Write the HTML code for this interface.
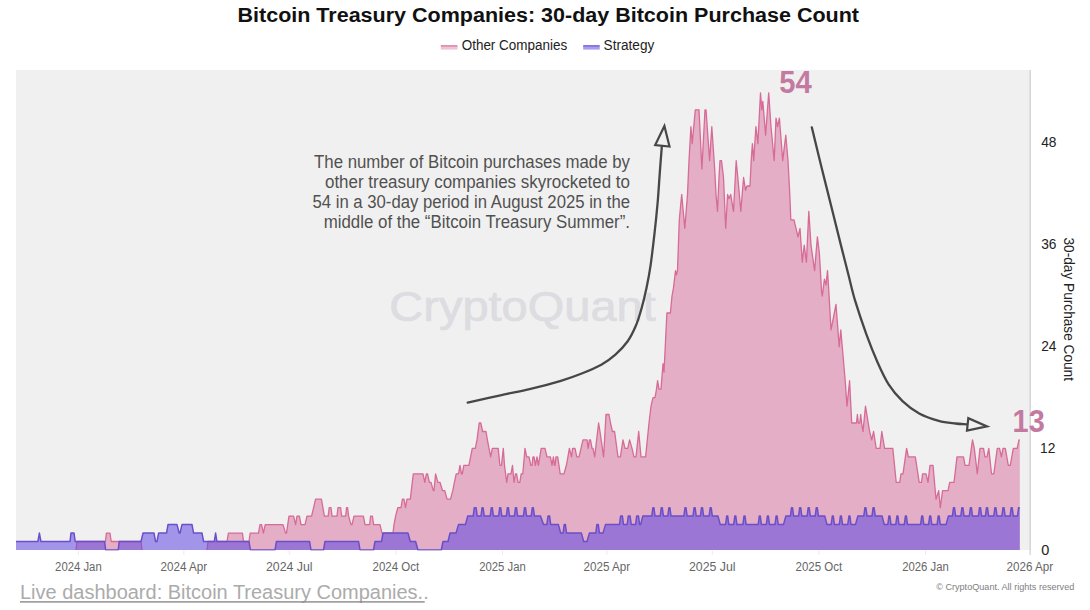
<!DOCTYPE html>
<html><head><meta charset="utf-8"><title>Bitcoin Treasury Companies: 30-day Bitcoin Purchase Count</title>
<style>
html,body{margin:0;padding:0;background:#fff;}
body{width:1090px;height:610px;overflow:hidden;font-family:"Liberation Sans",sans-serif;}
svg{display:block;}
svg text{font-family:"Liberation Sans",sans-serif;}
</style></head><body>
<svg width="1090" height="610" viewBox="0 0 1090 610" font-family="Liberation Sans, sans-serif">
<rect x="16" y="70" width="1013.6" height="480" fill="#f0f0f0"/>
<line x1="1030.2" y1="70" x2="1030.2" y2="555" stroke="#d6d6db" stroke-width="1.6"/>
<text x="389.3" y="320.6" font-size="43" fill="#dcdce1" textLength="266.5" lengthAdjust="spacingAndGlyphs" stroke="#dcdce1" stroke-width="0.7">CryptoQuant</text>
<clipPath id="pc"><rect x="16" y="60" width="1014" height="490.4"/></clipPath><g clip-path="url(#pc)">
<path d="M16.0 550.0 L76.0 550.0 L77.0 541.5 L105.4 541.5 L106.4 533.1 L110.0 533.1 L111.2 541.5 L141.0 541.5 L142.0 550.0 L207.0 550.0 L208.0 541.5 L227.0 541.5 L228.4 533.1 L242.4 533.1 L243.6 541.5 L249.0 541.5 L250.2 533.1 L258.5 533.1 L260.0 524.6 L261.6 524.6 L263.4 533.1 L265.2 524.6 L283.0 524.6 L285.6 533.1 L286.5 533.1 L289.0 516.1 L293.6 516.1 L295.6 524.6 L297.0 516.1 L299.4 516.1 L301.0 524.6 L305.0 524.6 L307.0 516.1 L311.6 516.1 L315.6 499.2 L321.4 499.2 L324.4 516.1 L328.2 516.1 L329.2 507.7 L331.0 507.7 L332.0 516.1 L337.0 516.1 L338.0 507.7 L340.6 507.7 L341.6 516.1 L345.6 516.1 L346.6 507.7 L347.6 507.7 L348.6 516.1 L351.0 524.6 L352.0 524.6 L354.0 516.1 L363.4 516.1 L365.0 524.6 L369.6 524.6 L370.6 516.1 L372.4 516.1 L373.6 524.6 L380.0 524.6 L382.0 533.1 L393.0 533.1 L394.0 524.6 L395.6 516.1 L397.8 507.7 L401.0 507.7 L402.4 499.2 L404.0 499.2 L405.5 507.7 L407.0 499.2 L410.3 499.2 L413.3 473.8 L423.0 473.8 L424.8 482.3 L426.4 473.8 L427.5 473.8 L429.4 482.3 L431.0 482.3 L433.3 490.7 L434.0 490.7 L435.6 473.8 L437.9 482.3 L440.0 482.3 L442.5 490.7 L444.8 490.7 L447.0 499.2 L450.5 499.2 L452.8 490.7 L454.4 482.3 L456.2 473.8 L458.5 473.8 L460.0 465.3 L461.5 473.8 L462.3 473.8 L463.8 465.3 L468.9 465.3 L472.3 448.4 L475.3 448.4 L477.0 439.9 L479.2 423.0 L480.8 423.0 L482.6 431.5 L486.0 431.5 L487.4 439.9 L489.0 448.4 L490.7 456.9 L492.3 448.4 L498.2 448.4 L499.9 465.3 L501.5 465.3 L503.3 448.4 L504.5 465.3 L506.7 482.3 L508.0 473.8 L511.0 473.8 L512.5 465.3 L514.0 482.3 L515.5 473.8 L516.6 473.8 L518.0 482.3 L519.8 482.3 L521.2 473.8 L522.8 473.8 L525.0 448.4 L526.7 456.9 L529.0 456.9 L530.8 465.3 L532.0 465.3 L533.0 456.9 L534.0 456.9 L535.4 465.3 L537.0 456.9 L538.4 465.3 L541.2 448.4 L545.0 448.4 L547.0 456.9 L550.4 456.9 L552.0 465.3 L553.4 456.9 L554.5 465.3 L555.0 465.3 L556.0 456.9 L557.7 456.9 L560.2 473.8 L564.0 473.8 L566.4 465.3 L569.4 448.4 L571.5 456.9 L572.6 448.4 L575.0 448.4 L576.8 456.9 L579.0 456.9 L581.0 448.4 L583.0 439.9 L587.0 439.9 L588.2 448.4 L589.4 439.9 L590.5 439.9 L592.0 448.4 L593.0 448.4 L594.7 456.9 L598.6 423.0 L600.0 431.5 L603.6 456.9 L606.0 414.5 L609.0 414.5 L610.5 423.0 L612.4 431.5 L614.6 431.5 L618.0 456.9 L620.4 456.9 L623.0 439.9 L625.0 448.4 L627.7 448.4 L629.6 439.9 L632.0 448.4 L634.0 456.9 L636.0 456.9 L638.7 431.5 L641.0 456.9 L645.6 456.9 L649.0 423.0 L650.0 414.5 L651.0 406.1 L653.0 397.6 L655.0 397.6 L656.5 389.1 L657.6 380.7 L659.0 389.1 L661.0 389.1 L663.0 363.7 L664.0 372.2 L666.9 313.0 L670.4 313.0 L672.0 296.0 L673.5 287.6 L675.5 270.6 L676.5 274.9 L677.5 270.6 L679.3 219.8 L681.7 194.4 L684.8 228.3 L687.5 194.4 L689.0 160.6 L690.9 126.7 L692.2 143.6 L695.3 109.8 L699.0 109.8 L701.9 169.0 L705.0 109.8 L706.0 109.8 L709.6 160.6 L711.8 126.7 L714.7 169.0 L716.0 194.4 L717.5 211.4 L719.0 177.5 L720.0 160.6 L721.5 160.6 L723.5 177.5 L725.7 228.3 L727.6 194.4 L729.0 198.7 L730.7 194.4 L733.5 211.4 L735.3 177.5 L736.2 160.6 L738.6 186.0 L740.8 211.4 L743.6 177.5 L745.5 190.2 L747.0 186.0 L750.0 186.0 L751.2 160.6 L752.4 143.6 L753.7 160.6 L755.9 126.7 L757.9 143.6 L760.5 92.8 L761.8 109.8 L762.8 101.3 L765.6 135.2 L768.7 92.8 L771.0 126.7 L774.2 160.6 L776.0 118.2 L777.6 126.7 L779.4 118.2 L782.7 160.6 L785.8 135.2 L788.0 160.6 L789.8 194.4 L790.8 219.8 L794.0 219.8 L796.0 228.3 L798.0 236.8 L800.0 228.3 L802.3 262.2 L804.2 245.2 L806.4 262.2 L808.8 211.4 L811.0 245.2 L814.6 270.6 L817.4 236.8 L819.4 253.7 L821.6 291.8 L822.3 296.0 L824.4 279.1 L826.0 285.0 L827.5 270.6 L828.6 287.6 L831.0 329.9 L836.0 304.5 L839.2 346.8 L840.8 329.9 L845.2 380.7 L847.0 406.1 L849.6 380.7 L851.7 423.0 L856.5 423.0 L857.4 414.5 L858.3 423.0 L859.8 423.0 L860.7 414.5 L861.6 423.0 L863.0 431.5 L865.5 406.1 L869.6 431.5 L871.7 439.9 L873.6 431.5 L876.2 448.4 L880.0 448.4 L881.8 431.5 L884.6 448.4 L892.8 448.4 L896.2 482.3 L899.7 482.3 L901.0 473.8 L903.0 473.8 L906.6 448.4 L908.4 456.9 L915.3 456.9 L919.2 482.3 L921.5 482.3 L922.6 473.8 L926.0 473.8 L928.0 482.3 L930.0 465.3 L933.0 465.3 L936.0 499.2 L938.7 490.7 L940.3 507.7 L942.6 490.7 L948.0 490.7 L949.7 482.3 L954.0 482.3 L957.0 456.9 L963.5 456.9 L965.0 465.3 L969.0 465.3 L972.5 439.9 L974.3 448.4 L977.3 473.8 L980.0 448.4 L983.5 448.4 L985.0 456.9 L987.0 456.9 L988.8 448.4 L991.5 473.8 L993.8 473.8 L997.3 448.4 L999.5 448.4 L1001.4 456.9 L1003.0 448.4 L1005.3 448.4 L1008.3 465.3 L1010.3 465.3 L1013.3 448.4 L1017.2 448.4 L1019.0 439.9 L1019.8 439.9 L1019.8 550.0 L16.0 550.0 Z" fill="#e3aec6"/>
<path d="M76.0 550.0 L77.0 541.5 L105.4 541.5 L106.4 533.1 L110.0 533.1 L111.2 541.5 L141.0 541.5 L142.0 550.0 M207.0 550.0 L208.0 541.5 L227.0 541.5 L228.4 533.1 L242.4 533.1 L243.6 541.5 L249.0 541.5 L250.2 533.1 L258.5 533.1 L260.0 524.6 L261.6 524.6 L263.4 533.1 L265.2 524.6 L283.0 524.6 L285.6 533.1 L286.5 533.1 L289.0 516.1 L293.6 516.1 L295.6 524.6 L297.0 516.1 L299.4 516.1 L301.0 524.6 L305.0 524.6 L307.0 516.1 L311.6 516.1 L315.6 499.2 L321.4 499.2 L324.4 516.1 L328.2 516.1 L329.2 507.7 L331.0 507.7 L332.0 516.1 L337.0 516.1 L338.0 507.7 L340.6 507.7 L341.6 516.1 L345.6 516.1 L346.6 507.7 L347.6 507.7 L348.6 516.1 L351.0 524.6 L352.0 524.6 L354.0 516.1 L363.4 516.1 L365.0 524.6 L369.6 524.6 L370.6 516.1 L372.4 516.1 L373.6 524.6 L380.0 524.6 L382.0 533.1 L393.0 533.1 L394.0 524.6 L395.6 516.1 L397.8 507.7 L401.0 507.7 L402.4 499.2 L404.0 499.2 L405.5 507.7 L407.0 499.2 L410.3 499.2 L413.3 473.8 L423.0 473.8 L424.8 482.3 L426.4 473.8 L427.5 473.8 L429.4 482.3 L431.0 482.3 L433.3 490.7 L434.0 490.7 L435.6 473.8 L437.9 482.3 L440.0 482.3 L442.5 490.7 L444.8 490.7 L447.0 499.2 L450.5 499.2 L452.8 490.7 L454.4 482.3 L456.2 473.8 L458.5 473.8 L460.0 465.3 L461.5 473.8 L462.3 473.8 L463.8 465.3 L468.9 465.3 L472.3 448.4 L475.3 448.4 L477.0 439.9 L479.2 423.0 L480.8 423.0 L482.6 431.5 L486.0 431.5 L487.4 439.9 L489.0 448.4 L490.7 456.9 L492.3 448.4 L498.2 448.4 L499.9 465.3 L501.5 465.3 L503.3 448.4 L504.5 465.3 L506.7 482.3 L508.0 473.8 L511.0 473.8 L512.5 465.3 L514.0 482.3 L515.5 473.8 L516.6 473.8 L518.0 482.3 L519.8 482.3 L521.2 473.8 L522.8 473.8 L525.0 448.4 L526.7 456.9 L529.0 456.9 L530.8 465.3 L532.0 465.3 L533.0 456.9 L534.0 456.9 L535.4 465.3 L537.0 456.9 L538.4 465.3 L541.2 448.4 L545.0 448.4 L547.0 456.9 L550.4 456.9 L552.0 465.3 L553.4 456.9 L554.5 465.3 L555.0 465.3 L556.0 456.9 L557.7 456.9 L560.2 473.8 L564.0 473.8 L566.4 465.3 L569.4 448.4 L571.5 456.9 L572.6 448.4 L575.0 448.4 L576.8 456.9 L579.0 456.9 L581.0 448.4 L583.0 439.9 L587.0 439.9 L588.2 448.4 L589.4 439.9 L590.5 439.9 L592.0 448.4 L593.0 448.4 L594.7 456.9 L598.6 423.0 L600.0 431.5 L603.6 456.9 L606.0 414.5 L609.0 414.5 L610.5 423.0 L612.4 431.5 L614.6 431.5 L618.0 456.9 L620.4 456.9 L623.0 439.9 L625.0 448.4 L627.7 448.4 L629.6 439.9 L632.0 448.4 L634.0 456.9 L636.0 456.9 L638.7 431.5 L641.0 456.9 L645.6 456.9 L649.0 423.0 L650.0 414.5 L651.0 406.1 L653.0 397.6 L655.0 397.6 L656.5 389.1 L657.6 380.7 L659.0 389.1 L661.0 389.1 L663.0 363.7 L664.0 372.2 L666.9 313.0 L670.4 313.0 L672.0 296.0 L673.5 287.6 L675.5 270.6 L676.5 274.9 L677.5 270.6 L679.3 219.8 L681.7 194.4 L684.8 228.3 L687.5 194.4 L689.0 160.6 L690.9 126.7 L692.2 143.6 L695.3 109.8 L699.0 109.8 L701.9 169.0 L705.0 109.8 L706.0 109.8 L709.6 160.6 L711.8 126.7 L714.7 169.0 L716.0 194.4 L717.5 211.4 L719.0 177.5 L720.0 160.6 L721.5 160.6 L723.5 177.5 L725.7 228.3 L727.6 194.4 L729.0 198.7 L730.7 194.4 L733.5 211.4 L735.3 177.5 L736.2 160.6 L738.6 186.0 L740.8 211.4 L743.6 177.5 L745.5 190.2 L747.0 186.0 L750.0 186.0 L751.2 160.6 L752.4 143.6 L753.7 160.6 L755.9 126.7 L757.9 143.6 L760.5 92.8 L761.8 109.8 L762.8 101.3 L765.6 135.2 L768.7 92.8 L771.0 126.7 L774.2 160.6 L776.0 118.2 L777.6 126.7 L779.4 118.2 L782.7 160.6 L785.8 135.2 L788.0 160.6 L789.8 194.4 L790.8 219.8 L794.0 219.8 L796.0 228.3 L798.0 236.8 L800.0 228.3 L802.3 262.2 L804.2 245.2 L806.4 262.2 L808.8 211.4 L811.0 245.2 L814.6 270.6 L817.4 236.8 L819.4 253.7 L821.6 291.8 L822.3 296.0 L824.4 279.1 L826.0 285.0 L827.5 270.6 L828.6 287.6 L831.0 329.9 L836.0 304.5 L839.2 346.8 L840.8 329.9 L845.2 380.7 L847.0 406.1 L849.6 380.7 L851.7 423.0 L856.5 423.0 L857.4 414.5 L858.3 423.0 L859.8 423.0 L860.7 414.5 L861.6 423.0 L863.0 431.5 L865.5 406.1 L869.6 431.5 L871.7 439.9 L873.6 431.5 L876.2 448.4 L880.0 448.4 L881.8 431.5 L884.6 448.4 L892.8 448.4 L896.2 482.3 L899.7 482.3 L901.0 473.8 L903.0 473.8 L906.6 448.4 L908.4 456.9 L915.3 456.9 L919.2 482.3 L921.5 482.3 L922.6 473.8 L926.0 473.8 L928.0 482.3 L930.0 465.3 L933.0 465.3 L936.0 499.2 L938.7 490.7 L940.3 507.7 L942.6 490.7 L948.0 490.7 L949.7 482.3 L954.0 482.3 L957.0 456.9 L963.5 456.9 L965.0 465.3 L969.0 465.3 L972.5 439.9 L974.3 448.4 L977.3 473.8 L980.0 448.4 L983.5 448.4 L985.0 456.9 L987.0 456.9 L988.8 448.4 L991.5 473.8 L993.8 473.8 L997.3 448.4 L999.5 448.4 L1001.4 456.9 L1003.0 448.4 L1005.3 448.4 L1008.3 465.3 L1010.3 465.3 L1013.3 448.4 L1017.2 448.4 L1019.0 439.9 L1019.8 439.9" fill="none" stroke="#d76b95" stroke-width="1.3" stroke-linejoin="round"/>
<path d="M16.0 541.5 L37.9 541.5 L39.4 533.1 L40.9 541.5 L70.0 541.5 L71.0 533.1 L74.0 533.1 L75.2 541.5 L104.6 541.5 L105.6 550.0 L118.2 550.0 L119.2 541.5 L141.0 541.5 L143.0 533.1 L154.0 533.1 L155.6 541.5 L157.0 541.5 L158.6 533.1 L166.5 533.1 L168.0 524.6 L177.0 524.6 L179.2 533.1 L180.0 533.1 L182.0 524.6 L192.0 524.6 L193.6 533.1 L202.0 533.1 L203.6 541.5 L214.3 541.5 L215.6 533.1 L216.9 541.5 L249.0 541.5 L250.4 550.0 L275.0 550.0 L276.4 541.5 L309.6 541.5 L311.0 550.0 L323.5 550.0 L325.0 541.5 L358.6 541.5 L360.0 550.0 L373.5 550.0 L375.0 541.5 L381.5 541.5 L383.0 533.1 L408.0 533.1 L410.3 541.5 L415.6 541.5 L418.0 550.0 L441.3 550.0 L443.0 541.5 L448.0 541.5 L450.0 533.1 L456.0 533.1 L458.5 524.6 L465.4 524.6 L467.7 516.1 L473.2 516.1 L474.3 507.7 L476.1 507.7 L477.2 516.1 L481.0 516.1 L482.1 507.7 L483.1 507.7 L484.2 516.1 L490.2 516.1 L491.3 507.7 L492.3 507.7 L493.4 516.1 L498.6 516.1 L499.7 507.7 L500.7 507.7 L501.8 516.1 L506.3 516.1 L507.4 507.7 L508.4 507.7 L509.5 516.1 L514.4 516.1 L515.5 507.7 L516.5 507.7 L517.6 516.1 L523.4 516.1 L524.5 507.7 L525.5 507.7 L526.6 516.1 L531.2 516.1 L532.3 507.7 L533.3 507.7 L534.4 516.1 L540.5 516.1 L543.5 524.6 L546.9 524.6 L548.0 516.1 L549.6 516.1 L550.7 524.6 L558.4 524.6 L560.7 533.1 L563.1 533.1 L564.2 524.6 L565.4 524.6 L566.5 533.1 L581.4 533.1 L583.7 541.5 L587.0 541.5 L589.4 533.1 L595.8 533.1 L596.9 524.6 L598.3 524.6 L599.4 533.1 L603.0 533.1 L605.5 524.6 L619.5 524.6 L620.6 516.1 L622.4 516.1 L623.5 524.6 L627.2 524.6 L628.3 516.1 L630.1 516.1 L631.2 524.6 L635.6 524.6 L636.7 516.1 L638.5 516.1 L639.6 524.6 L640.6 524.6 L642.8 516.1 L651.8 516.1 L652.9 507.7 L653.9 507.7 L655.0 516.1 L660.2 516.1 L661.3 507.7 L662.3 507.7 L663.4 516.1 L667.8 516.1 L668.9 507.7 L669.9 507.7 L671.0 516.1 L683.9 516.1 L685.0 507.7 L686.0 507.7 L687.1 516.1 L693.0 516.1 L694.1 507.7 L695.1 507.7 L696.2 516.1 L700.4 516.1 L701.5 507.7 L702.5 507.7 L703.6 516.1 L709.1 516.1 L710.2 507.7 L711.2 507.7 L712.3 516.1 L718.0 516.1 L720.3 524.6 L725.6 524.6 L726.7 516.1 L727.7 516.1 L728.8 524.6 L733.7 524.6 L734.8 516.1 L735.8 516.1 L736.9 524.6 L742.9 524.6 L744.0 516.1 L745.0 516.1 L746.1 524.6 L758.2 524.6 L759.3 516.1 L760.3 516.1 L761.4 524.6 L766.3 524.6 L767.4 516.1 L768.4 516.1 L769.5 524.6 L775.0 524.6 L776.1 516.1 L777.1 516.1 L778.2 524.6 L783.5 524.6 L785.8 516.1 L790.4 516.1 L791.5 507.7 L792.5 507.7 L793.6 516.1 L798.6 516.1 L799.7 507.7 L800.7 507.7 L801.8 516.1 L807.1 516.1 L808.2 507.7 L809.2 507.7 L810.3 516.1 L815.2 516.1 L816.3 507.7 L817.3 507.7 L818.4 516.1 L824.8 516.1 L827.0 524.6 L831.2 524.6 L832.3 516.1 L833.3 516.1 L834.4 524.6 L839.3 524.6 L840.4 516.1 L841.4 516.1 L842.5 524.6 L847.8 524.6 L848.9 516.1 L849.9 516.1 L851.0 524.6 L855.5 524.6 L857.8 516.1 L863.8 516.1 L864.9 507.7 L865.9 507.7 L867.0 516.1 L872.0 516.1 L873.1 507.7 L874.1 507.7 L875.2 516.1 L882.1 516.1 L884.3 524.6 L887.8 524.6 L888.9 516.1 L889.9 516.1 L891.0 524.6 L895.8 524.6 L896.9 516.1 L897.9 516.1 L899.0 524.6 L904.3 524.6 L905.4 516.1 L906.4 516.1 L907.5 524.6 L920.6 524.6 L921.7 516.1 L922.7 516.1 L923.8 524.6 L928.6 524.6 L929.7 516.1 L930.7 516.1 L931.8 524.6 L937.1 524.6 L938.2 516.1 L939.2 516.1 L940.3 524.6 L946.0 524.6 L948.4 516.1 L952.4 516.1 L953.5 507.7 L954.5 507.7 L955.6 516.1 L960.8 516.1 L961.9 507.7 L962.9 507.7 L964.0 516.1 L969.3 516.1 L970.4 507.7 L971.4 507.7 L972.5 516.1 L978.4 516.1 L979.5 507.7 L980.5 507.7 L981.6 516.1 L985.4 516.1 L986.5 507.7 L987.5 507.7 L988.6 516.1 L993.8 516.1 L994.9 507.7 L995.9 507.7 L997.0 516.1 L1001.9 516.1 L1003.0 507.7 L1004.0 507.7 L1005.1 516.1 L1010.1 516.1 L1011.2 507.7 L1012.2 507.7 L1013.3 516.1 L1017.5 516.1 L1018.6 507.7 L1019.8 507.7 L1019.8 550.0 L16.0 550.0 Z" fill="rgba(98,73,225,0.55)"/>
<path d="M16.0 541.5 L37.9 541.5 L39.4 533.1 L40.9 541.5 L70.0 541.5 L71.0 533.1 L74.0 533.1 L75.2 541.5 L104.6 541.5 L105.6 550.0 L118.2 550.0 L119.2 541.5 L141.0 541.5 L143.0 533.1 L154.0 533.1 L155.6 541.5 L157.0 541.5 L158.6 533.1 L166.5 533.1 L168.0 524.6 L177.0 524.6 L179.2 533.1 L180.0 533.1 L182.0 524.6 L192.0 524.6 L193.6 533.1 L202.0 533.1 L203.6 541.5 L214.3 541.5 L215.6 533.1 L216.9 541.5 L249.0 541.5 L250.4 550.0 L275.0 550.0 L276.4 541.5 L309.6 541.5 L311.0 550.0 L323.5 550.0 L325.0 541.5 L358.6 541.5 L360.0 550.0 L373.5 550.0 L375.0 541.5 L381.5 541.5 L383.0 533.1 L408.0 533.1 L410.3 541.5 L415.6 541.5 L418.0 550.0 L441.3 550.0 L443.0 541.5 L448.0 541.5 L450.0 533.1 L456.0 533.1 L458.5 524.6 L465.4 524.6 L467.7 516.1 L473.2 516.1 L474.3 507.7 L476.1 507.7 L477.2 516.1 L481.0 516.1 L482.1 507.7 L483.1 507.7 L484.2 516.1 L490.2 516.1 L491.3 507.7 L492.3 507.7 L493.4 516.1 L498.6 516.1 L499.7 507.7 L500.7 507.7 L501.8 516.1 L506.3 516.1 L507.4 507.7 L508.4 507.7 L509.5 516.1 L514.4 516.1 L515.5 507.7 L516.5 507.7 L517.6 516.1 L523.4 516.1 L524.5 507.7 L525.5 507.7 L526.6 516.1 L531.2 516.1 L532.3 507.7 L533.3 507.7 L534.4 516.1 L540.5 516.1 L543.5 524.6 L546.9 524.6 L548.0 516.1 L549.6 516.1 L550.7 524.6 L558.4 524.6 L560.7 533.1 L563.1 533.1 L564.2 524.6 L565.4 524.6 L566.5 533.1 L581.4 533.1 L583.7 541.5 L587.0 541.5 L589.4 533.1 L595.8 533.1 L596.9 524.6 L598.3 524.6 L599.4 533.1 L603.0 533.1 L605.5 524.6 L619.5 524.6 L620.6 516.1 L622.4 516.1 L623.5 524.6 L627.2 524.6 L628.3 516.1 L630.1 516.1 L631.2 524.6 L635.6 524.6 L636.7 516.1 L638.5 516.1 L639.6 524.6 L640.6 524.6 L642.8 516.1 L651.8 516.1 L652.9 507.7 L653.9 507.7 L655.0 516.1 L660.2 516.1 L661.3 507.7 L662.3 507.7 L663.4 516.1 L667.8 516.1 L668.9 507.7 L669.9 507.7 L671.0 516.1 L683.9 516.1 L685.0 507.7 L686.0 507.7 L687.1 516.1 L693.0 516.1 L694.1 507.7 L695.1 507.7 L696.2 516.1 L700.4 516.1 L701.5 507.7 L702.5 507.7 L703.6 516.1 L709.1 516.1 L710.2 507.7 L711.2 507.7 L712.3 516.1 L718.0 516.1 L720.3 524.6 L725.6 524.6 L726.7 516.1 L727.7 516.1 L728.8 524.6 L733.7 524.6 L734.8 516.1 L735.8 516.1 L736.9 524.6 L742.9 524.6 L744.0 516.1 L745.0 516.1 L746.1 524.6 L758.2 524.6 L759.3 516.1 L760.3 516.1 L761.4 524.6 L766.3 524.6 L767.4 516.1 L768.4 516.1 L769.5 524.6 L775.0 524.6 L776.1 516.1 L777.1 516.1 L778.2 524.6 L783.5 524.6 L785.8 516.1 L790.4 516.1 L791.5 507.7 L792.5 507.7 L793.6 516.1 L798.6 516.1 L799.7 507.7 L800.7 507.7 L801.8 516.1 L807.1 516.1 L808.2 507.7 L809.2 507.7 L810.3 516.1 L815.2 516.1 L816.3 507.7 L817.3 507.7 L818.4 516.1 L824.8 516.1 L827.0 524.6 L831.2 524.6 L832.3 516.1 L833.3 516.1 L834.4 524.6 L839.3 524.6 L840.4 516.1 L841.4 516.1 L842.5 524.6 L847.8 524.6 L848.9 516.1 L849.9 516.1 L851.0 524.6 L855.5 524.6 L857.8 516.1 L863.8 516.1 L864.9 507.7 L865.9 507.7 L867.0 516.1 L872.0 516.1 L873.1 507.7 L874.1 507.7 L875.2 516.1 L882.1 516.1 L884.3 524.6 L887.8 524.6 L888.9 516.1 L889.9 516.1 L891.0 524.6 L895.8 524.6 L896.9 516.1 L897.9 516.1 L899.0 524.6 L904.3 524.6 L905.4 516.1 L906.4 516.1 L907.5 524.6 L920.6 524.6 L921.7 516.1 L922.7 516.1 L923.8 524.6 L928.6 524.6 L929.7 516.1 L930.7 516.1 L931.8 524.6 L937.1 524.6 L938.2 516.1 L939.2 516.1 L940.3 524.6 L946.0 524.6 L948.4 516.1 L952.4 516.1 L953.5 507.7 L954.5 507.7 L955.6 516.1 L960.8 516.1 L961.9 507.7 L962.9 507.7 L964.0 516.1 L969.3 516.1 L970.4 507.7 L971.4 507.7 L972.5 516.1 L978.4 516.1 L979.5 507.7 L980.5 507.7 L981.6 516.1 L985.4 516.1 L986.5 507.7 L987.5 507.7 L988.6 516.1 L993.8 516.1 L994.9 507.7 L995.9 507.7 L997.0 516.1 L1001.9 516.1 L1003.0 507.7 L1004.0 507.7 L1005.1 516.1 L1010.1 516.1 L1011.2 507.7 L1012.2 507.7 L1013.3 516.1 L1017.5 516.1 L1018.6 507.7 L1019.8 507.7" fill="none" stroke="#6a4fc8" stroke-width="1.5" stroke-linejoin="round"/>
</g>
<text x="237.5" y="22.4" font-size="20" fill="#111" font-weight="bold" textLength="621.5" lengthAdjust="spacingAndGlyphs">Bitcoin Treasury Companies: 30-day Bitcoin Purchase Count</text>
<rect x="440.8" y="46.2" width="16.7" height="3.4" fill="#efc3d6"/><rect x="440.8" y="45.1" width="16.7" height="1.6" fill="#dd86a8"/>
<text x="461.7" y="50.3" font-size="14" fill="#222" textLength="105.5" lengthAdjust="spacingAndGlyphs">Other Companies</text>
<rect x="583.2" y="46.2" width="16.5" height="3.4" fill="#a99cf0"/><rect x="583.2" y="45.1" width="16.5" height="1.6" fill="#7a66dc"/>
<text x="603.6" y="50.3" font-size="14" fill="#222" textLength="50.7" lengthAdjust="spacingAndGlyphs">Strategy</text>
<text x="314" y="167.9" font-size="17.5" fill="#505050" textLength="316" lengthAdjust="spacingAndGlyphs">The number of Bitcoin purchases made by</text>
<text x="325" y="188.0" font-size="17.5" fill="#505050" textLength="305" lengthAdjust="spacingAndGlyphs">other treasury companies skyrocketed to</text>
<text x="312.5" y="208.0" font-size="17.5" fill="#505050" textLength="317.5" lengthAdjust="spacingAndGlyphs">54 in a 30-day period in August 2025 in the</text>
<text x="323.7" y="227.9" font-size="17.5" fill="#505050" textLength="306.3" lengthAdjust="spacingAndGlyphs">middle of the “Bitcoin Treasury Summer”.</text>
<path d="M467.7 402.6 C473.1 401.4 489.9 397.6 500.4 395.3 C510.9 393.0 520.5 391.3 530.6 388.9 C540.7 386.5 552.5 383.3 560.9 380.8 C569.3 378.3 574.4 376.5 581.1 373.8 C587.8 371.1 595.6 367.9 601.3 364.7 C607.0 361.5 611.0 358.5 615.4 354.6 C619.8 350.7 624.1 346.2 627.5 341.5 C630.9 336.8 633.2 331.9 635.6 326.3 C638.0 320.8 639.8 314.6 641.6 308.2 C643.4 301.8 645.0 295.1 646.5 288.0 C648.0 280.9 649.2 274.8 650.5 265.9 C651.8 257.0 653.2 244.9 654.4 234.4 C655.6 223.9 656.7 213.1 657.6 203.0 C658.5 192.9 659.0 183.5 659.7 174.1 C660.4 164.7 661.4 151.2 661.8 146.6" fill="none" stroke="#474747" stroke-width="2.3" stroke-linecap="round"/>
<path d="M664.4 125.9 L655.2 145 L669.5 146.5 Z" fill="#f0f0f0" stroke="#474747" stroke-width="2.2" stroke-linejoin="miter"/>
<path d="M811.8 127.3 C813.4 133.9 818.1 153.5 821.5 167.2 C824.9 180.8 828.7 196.1 832.0 209.2 C835.3 222.3 838.4 234.9 841.1 245.9 C843.9 256.9 846.2 265.9 848.5 275.0 C850.8 284.1 852.1 290.8 855.1 300.7 C858.1 310.6 862.6 323.9 866.3 334.1 C870.0 344.3 873.7 353.6 877.4 362.0 C881.1 370.4 884.4 377.8 888.6 384.3 C892.8 390.8 897.4 396.2 902.5 401.1 C907.6 406.0 913.2 410.1 919.2 413.4 C925.2 416.7 932.8 419.1 938.8 420.8 C944.8 422.5 950.9 422.9 955.5 423.5 C960.1 424.1 964.8 424.2 966.6 424.4" fill="none" stroke="#474747" stroke-width="2.3" stroke-linecap="round"/>
<path d="M968.3 418.2 L967 430.6 L987 426.4 Z" fill="#f0f0f0" stroke="#474747" stroke-width="2.2" stroke-linejoin="miter"/>
<text x="779.3" y="92.8" font-size="31.5" fill="#c47aa0" font-weight="bold" textLength="32.5" lengthAdjust="spacingAndGlyphs">54</text>
<text x="1012.6" y="431.7" font-size="31.5" fill="#c47aa0" font-weight="bold" textLength="32.1" lengthAdjust="spacingAndGlyphs">13</text>
<text x="1041.2" y="554.7" font-size="14.5" fill="#222">0</text>
<text x="1040.0" y="453.2" font-size="14.5" fill="#222" textLength="15.3" lengthAdjust="spacingAndGlyphs">12</text>
<text x="1041.2" y="351.2" font-size="14.5" fill="#222" textLength="15.3" lengthAdjust="spacingAndGlyphs">24</text>
<text x="1041.2" y="249.2" font-size="14.5" fill="#222" textLength="15.3" lengthAdjust="spacingAndGlyphs">36</text>
<text x="1041.2" y="147.2" font-size="14.5" fill="#222" textLength="15.3" lengthAdjust="spacingAndGlyphs">48</text>
<g transform="translate(1064.2,237.5) rotate(90)"><text x="0" y="0" font-size="14.5" fill="#222" textLength="143.5" lengthAdjust="spacingAndGlyphs">30-day Purchase Count</text></g>
<text x="55.1" y="571.4" font-size="12" fill="#666" textLength="46.6" lengthAdjust="spacingAndGlyphs">2024 Jan</text>
<line x1="78.4" y1="550.5" x2="78.4" y2="555" stroke="#ebebeb" stroke-width="1"/>
<text x="160.6" y="571.4" font-size="12" fill="#666" textLength="46.6" lengthAdjust="spacingAndGlyphs">2024 Apr</text>
<line x1="183.9" y1="550.5" x2="183.9" y2="555" stroke="#ebebeb" stroke-width="1"/>
<text x="266.0" y="571.4" font-size="12" fill="#666" textLength="46.6" lengthAdjust="spacingAndGlyphs">2024 Jul</text>
<line x1="289.3" y1="550.5" x2="289.3" y2="555" stroke="#ebebeb" stroke-width="1"/>
<text x="372.6" y="571.4" font-size="12" fill="#666" textLength="46.6" lengthAdjust="spacingAndGlyphs">2024 Oct</text>
<line x1="395.9" y1="550.5" x2="395.9" y2="555" stroke="#ebebeb" stroke-width="1"/>
<text x="479.2" y="571.4" font-size="12" fill="#666" textLength="46.6" lengthAdjust="spacingAndGlyphs">2025 Jan</text>
<line x1="502.5" y1="550.5" x2="502.5" y2="555" stroke="#ebebeb" stroke-width="1"/>
<text x="583.5" y="571.4" font-size="12" fill="#666" textLength="46.6" lengthAdjust="spacingAndGlyphs">2025 Apr</text>
<line x1="606.8" y1="550.5" x2="606.8" y2="555" stroke="#ebebeb" stroke-width="1"/>
<text x="689.0" y="571.4" font-size="12" fill="#666" textLength="46.6" lengthAdjust="spacingAndGlyphs">2025 Jul</text>
<line x1="712.3" y1="550.5" x2="712.3" y2="555" stroke="#ebebeb" stroke-width="1"/>
<text x="795.6" y="571.4" font-size="12" fill="#666" textLength="46.6" lengthAdjust="spacingAndGlyphs">2025 Oct</text>
<line x1="818.9" y1="550.5" x2="818.9" y2="555" stroke="#ebebeb" stroke-width="1"/>
<text x="902.2" y="571.4" font-size="12" fill="#666" textLength="46.6" lengthAdjust="spacingAndGlyphs">2026 Jan</text>
<line x1="925.5" y1="550.5" x2="925.5" y2="555" stroke="#ebebeb" stroke-width="1"/>
<text x="1006.5" y="571.4" font-size="12" fill="#666" textLength="46.6" lengthAdjust="spacingAndGlyphs">2026 Apr</text>
<line x1="1029.8" y1="550.5" x2="1029.8" y2="555" stroke="#ebebeb" stroke-width="1"/>
<text x="20" y="598.9" font-size="20" fill="#ababab" textLength="408.7" lengthAdjust="spacingAndGlyphs">Live dashboard: Bitcoin Treasury Companies..</text>
<rect x="20" y="601.2" width="404.7" height="1.4" fill="#8a8a8a"/>
<text x="936.2" y="590.2" font-size="9.3" fill="#808080" textLength="138.1" lengthAdjust="spacingAndGlyphs">© CryptoQuant. All rights reserved</text>
</svg>
</body></html>
